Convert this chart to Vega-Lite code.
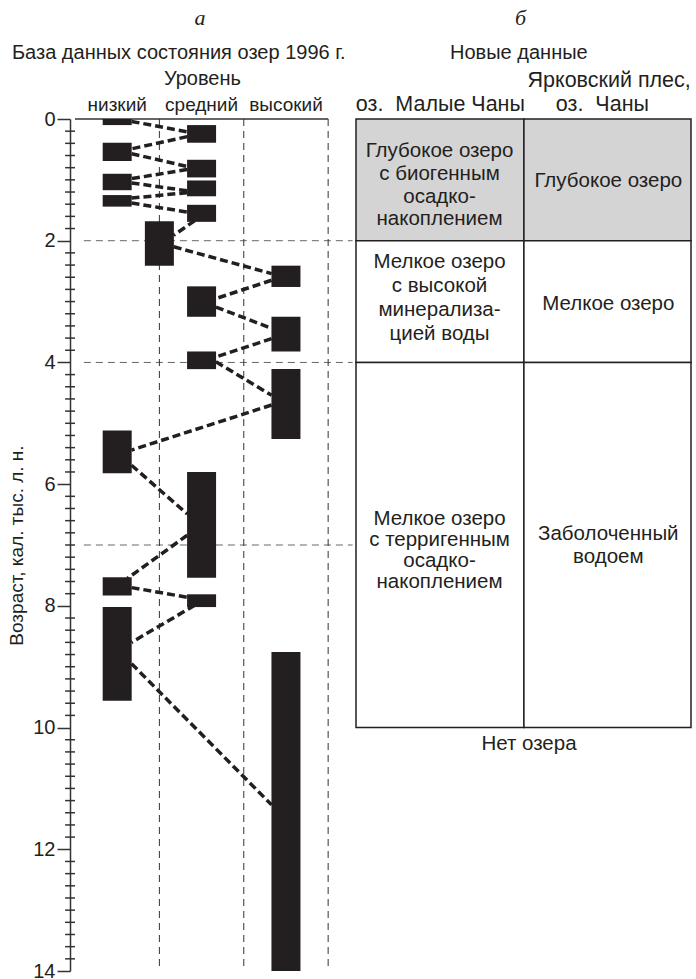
{
  "$schema": "https://vega.github.io/schema/vega-lite/v6.json",
  "autosize": "none",
  "width": 626,
  "height": 852,
  "padding": {"left": 70, "top": 119, "right": 0, "bottom": 8},
  "background": "white",
  "config": {
    "view": {"stroke": null},
    "text": {"font": "Liberation Sans", "color": "#231f20"}
  },
  "datasets": {
    "bars": [
      {"lvl": 0.5, "from": 0, "to": 0.1},
      {"lvl": 1.5, "from": 0.1, "to": 0.39},
      {"lvl": 0.5, "from": 0.39, "to": 0.69},
      {"lvl": 1.5, "from": 0.67, "to": 0.96},
      {"lvl": 0.5, "from": 0.9, "to": 1.17},
      {"lvl": 1.5, "from": 1.01, "to": 1.27},
      {"lvl": 0.5, "from": 1.25, "to": 1.44},
      {"lvl": 1.5, "from": 1.41, "to": 1.69},
      {"lvl": 1.0, "from": 1.68, "to": 2.41},
      {"lvl": 2.5, "from": 2.41, "to": 2.76},
      {"lvl": 1.5, "from": 2.75, "to": 3.25},
      {"lvl": 2.5, "from": 3.25, "to": 3.82},
      {"lvl": 1.5, "from": 3.82, "to": 4.11},
      {"lvl": 2.5, "from": 4.11, "to": 5.26},
      {"lvl": 0.5, "from": 5.12, "to": 5.82},
      {"lvl": 1.5, "from": 5.8, "to": 7.54},
      {"lvl": 0.5, "from": 7.53, "to": 7.83},
      {"lvl": 1.5, "from": 7.81, "to": 8.02},
      {"lvl": 0.5, "from": 8.02, "to": 9.56},
      {"lvl": 2.5, "from": 8.76, "to": 14.0}
    ],
    "links": [
      {"xa": 0.67, "ya": 0.04, "xb": 1.33, "yb": 0.21},
      {"xa": 1.33, "ya": 0.29, "xb": 0.67, "yb": 0.49},
      {"xa": 0.67, "ya": 0.57, "xb": 1.33, "yb": 0.78},
      {"xa": 1.33, "ya": 0.83, "xb": 0.67, "yb": 0.98},
      {"xa": 0.67, "ya": 1.05, "xb": 1.33, "yb": 1.18},
      {"xa": 1.33, "ya": 1.21, "xb": 0.67, "yb": 1.30},
      {"xa": 0.67, "ya": 1.38, "xb": 1.33, "yb": 1.53},
      {"xa": 1.42, "ya": 1.67, "xb": 1.17, "yb": 1.91},
      {"xa": 1.17, "ya": 2.10, "xb": 2.33, "yb": 2.54},
      {"xa": 2.33, "ya": 2.65, "xb": 1.67, "yb": 2.95},
      {"xa": 1.67, "ya": 3.09, "xb": 2.33, "yb": 3.44},
      {"xa": 2.33, "ya": 3.61, "xb": 1.67, "yb": 3.91},
      {"xa": 1.67, "ya": 3.99, "xb": 2.33, "yb": 4.54},
      {"xa": 2.33, "ya": 4.70, "xb": 0.67, "yb": 5.44},
      {"xa": 0.67, "ya": 5.69, "xb": 1.33, "yb": 6.49},
      {"xa": 1.33, "ya": 6.84, "xb": 0.62, "yb": 7.55},
      {"xa": 0.67, "ya": 7.70, "xb": 1.42, "yb": 7.88},
      {"xa": 1.42, "ya": 7.99, "xb": 0.67, "yb": 8.60},
      {"xa": 0.67, "ya": 8.95, "xb": 2.33, "yb": 11.27}
    ],
    "cells": [
      {"kind": "deep", "xa": 3.33, "xb": 5.32, "ya": 0, "yb": 2},
      {"kind": "deep", "xa": 5.32, "xb": 7.3, "ya": 0, "yb": 2},
      {"kind": "shallow", "xa": 3.33, "xb": 5.32, "ya": 2, "yb": 4},
      {"kind": "shallow", "xa": 5.32, "xb": 7.3, "ya": 2, "yb": 4},
      {"kind": "shallow", "xa": 3.33, "xb": 5.32, "ya": 4, "yb": 10},
      {"kind": "shallow", "xa": 5.32, "xb": 7.3, "ya": 4, "yb": 10}
    ],
    "cellText": [
      {"t": "Глубокое озеро", "x": 4.32, "y": 0.534},
      {"t": "с биогенным", "x": 4.32, "y": 0.907},
      {"t": "осадко-", "x": 4.32, "y": 1.278},
      {"t": "накоплением", "x": 4.32, "y": 1.651},
      {"t": "Глубокое озеро", "x": 6.32, "y": 1.011},
      {"t": "Мелкое озеро", "x": 4.32, "y": 2.35},
      {"t": "с высокой", "x": 4.32, "y": 2.744},
      {"t": "минерализа-", "x": 4.32, "y": 3.139},
      {"t": "цией воды", "x": 4.32, "y": 3.533},
      {"t": "Мелкое озеро", "x": 6.32, "y": 3.04},
      {"t": "Мелкое озеро", "x": 4.32, "y": 6.572},
      {"t": "с терригенным", "x": 4.32, "y": 6.917},
      {"t": "осадко-", "x": 4.32, "y": 7.262},
      {"t": "накоплением", "x": 4.32, "y": 7.607},
      {"t": "Заболоченный", "x": 6.32, "y": 6.819},
      {"t": "водоем", "x": 6.32, "y": 7.205},
      {"t": "Нет озера", "x": 5.38, "y": 10.27}
    ],
    "headersA": [
      {"t": "База данных состояния озер 1996 г.", "x": 1.23, "y": -1.092},
      {"t": "Новые данные", "x": 5.26, "y": -1.092},
      {"t": "Уровень", "x": 1.51, "y": -0.665}
    ],
    "headersB": [
      {"t": "низкий", "x": 0.5, "y": -0.23},
      {"t": "средний", "x": 1.5, "y": -0.23},
      {"t": "высокий", "x": 2.5, "y": -0.23}
    ],
    "headersC": [
      {"t": "Ярковский плес,", "x": 6.33, "y": -0.624},
      {"t": "оз.\u00a0 Малые Чаны", "x": 4.33, "y": -0.23},
      {"t": "оз.\u00a0 Чаны", "x": 6.25, "y": -0.23}
    ],
    "letters": [
      {"t": "а", "x": 1.48, "y": -1.66},
      {"t": "б", "x": 5.28, "y": -1.66}
    ],
    "minorTicks": [
      {"v": 0.2}, {"v": 0.4}, {"v": 0.6}, {"v": 0.8}, {"v": 1.0}, {"v": 1.2}, {"v": 1.4}, {"v": 1.6}, {"v": 1.8},
      {"v": 2.2}, {"v": 2.4}, {"v": 2.6}, {"v": 2.8}, {"v": 3.0}, {"v": 3.2}, {"v": 3.4}, {"v": 3.6}, {"v": 3.8},
      {"v": 4.2}, {"v": 4.4}, {"v": 4.6}, {"v": 4.8}, {"v": 5.0}, {"v": 5.2}, {"v": 5.4}, {"v": 5.6}, {"v": 5.8},
      {"v": 6.2}, {"v": 6.4}, {"v": 6.6}, {"v": 6.8}, {"v": 7.0}, {"v": 7.2}, {"v": 7.4}, {"v": 7.6}, {"v": 7.8},
      {"v": 8.2}, {"v": 8.4}, {"v": 8.6}, {"v": 8.8}, {"v": 9.0}, {"v": 9.2}, {"v": 9.4}, {"v": 9.6}, {"v": 9.8},
      {"v": 10.2}, {"v": 10.4}, {"v": 10.6}, {"v": 10.8}, {"v": 11.0}, {"v": 11.2}, {"v": 11.4}, {"v": 11.6}, {"v": 11.8},
      {"v": 12.2}, {"v": 12.4}, {"v": 12.6}, {"v": 12.8}, {"v": 13.0}, {"v": 13.2}, {"v": 13.4}, {"v": 13.6}, {"v": 13.8}
    ],
    "hgrid": [{"age": 2}, {"age": 4}, {"age": 7}],
    "vgrid": [{"lv": 1}, {"lv": 2}, {"lv": 3}]
  },
  "layer": [
    {
      "data": {"name": "cells"},
      "mark": {"type": "rect", "stroke": "#231f20", "strokeWidth": 1.5},
      "encoding": {
        "x": {"field": "xa", "type": "quantitative", "scale": {"domain": [0, 7.3], "nice": false, "zero": false}, "axis": null},
        "x2": {"field": "xb"},
        "y": {
          "field": "ya", "type": "quantitative",
          "scale": {"domain": [0, 14], "reverse": true, "nice": false, "zero": false},
          "axis": {
            "title": "Возраст, кал. тыс. л. н.",
            "values": [0, 2, 4, 6, 8, 10, 12, 14],
            "format": "d",
            "grid": false,
            "titleFont": "Liberation Sans",
            "titleFontSize": 19,
            "titleFontWeight": "normal",
            "titleColor": "#231f20",
            "titleBaseline": "alphabetic",
            "titleAngle": -90,
            "titleX": -48,
            "titleY": 426,
            "labelFont": "Liberation Sans",
            "labelFontSize": 20,
            "labelColor": "#231f20",
            "labelPadding": 2,
            "labelFlush": false,
            "labelOverlap": false,
            "tickSize": 13,
            "tickColor": "#333333",
            "tickWidth": 1.5,
            "domainColor": "#333333",
            "domainWidth": 1.5
          }
        },
        "y2": {"field": "yb"},
        "fill": {"field": "kind", "type": "nominal", "scale": {"domain": ["deep", "shallow"], "range": ["#d4d4d4", "#ffffff"]}, "legend": null}
      }
    },
    {
      "data": {"name": "hgrid"},
      "mark": {"type": "rule", "stroke": "#666666", "strokeWidth": 1, "strokeDash": [7, 5]},
      "encoding": {
        "x": {"datum": 0.105, "type": "quantitative", "axis": null},
        "x2": {"datum": 3.29},
        "y": {"field": "age", "type": "quantitative"}
      }
    },
    {
      "data": {"name": "vgrid"},
      "mark": {"type": "rule", "stroke": "#333333", "strokeWidth": 1, "strokeDash": [7, 5]},
      "encoding": {
        "x": {"field": "lv", "type": "quantitative", "axis": null},
        "y": {"datum": 0, "type": "quantitative"},
        "y2": {"datum": 14}
      }
    },
    {
      "data": {"values": [{"a": 0}]},
      "mark": {"type": "rule", "stroke": "#333333", "strokeWidth": 1.5},
      "encoding": {
        "x": {"datum": 0, "type": "quantitative", "axis": null},
        "x2": {"datum": 3},
        "y": {"datum": 0, "type": "quantitative"}
      }
    },
    {
      "data": {"name": "minorTicks"},
      "mark": {"type": "rule", "stroke": "#333333", "strokeWidth": 1.5},
      "encoding": {
        "x": {"datum": -0.117, "type": "quantitative", "axis": null},
        "x2": {"datum": 0},
        "y": {"field": "v", "type": "quantitative"}
      }
    },
    {
      "data": {"name": "bars"},
      "mark": {"type": "bar", "size": 29, "color": "#231f20"},
      "encoding": {
        "x": {"field": "lvl", "type": "quantitative", "axis": null},
        "y": {"field": "from", "type": "quantitative"},
        "y2": {"field": "to"}
      }
    },
    {
      "data": {"name": "links"},
      "mark": {"type": "rule", "stroke": "#231f20", "strokeWidth": 3.5, "strokeDash": [8, 4]},
      "encoding": {
        "x": {"field": "xa", "type": "quantitative", "axis": null},
        "x2": {"field": "xb"},
        "y": {"field": "ya", "type": "quantitative"},
        "y2": {"field": "yb"}
      }
    },
    {
      "data": {"name": "cellText"},
      "mark": {"type": "text", "fontSize": 20.5, "align": "center", "baseline": "middle"},
      "encoding": {
        "x": {"field": "x", "type": "quantitative", "axis": null},
        "y": {"field": "y", "type": "quantitative"},
        "text": {"field": "t"}
      }
    },
    {
      "data": {"name": "headersA"},
      "mark": {"type": "text", "fontSize": 20, "align": "center", "baseline": "middle"},
      "encoding": {
        "x": {"field": "x", "type": "quantitative", "axis": null},
        "y": {"field": "y", "type": "quantitative"},
        "text": {"field": "t"}
      }
    },
    {
      "data": {"name": "headersB"},
      "mark": {"type": "text", "fontSize": 19, "align": "center", "baseline": "middle"},
      "encoding": {
        "x": {"field": "x", "type": "quantitative", "axis": null},
        "y": {"field": "y", "type": "quantitative"},
        "text": {"field": "t"}
      }
    },
    {
      "data": {"name": "headersC"},
      "mark": {"type": "text", "fontSize": 21.5, "align": "center", "baseline": "middle"},
      "encoding": {
        "x": {"field": "x", "type": "quantitative", "axis": null},
        "y": {"field": "y", "type": "quantitative"},
        "text": {"field": "t"}
      }
    },
    {
      "data": {"name": "letters"},
      "mark": {"type": "text", "font": "Liberation Serif", "fontStyle": "italic", "fontSize": 22, "align": "center", "baseline": "middle"},
      "encoding": {
        "x": {"field": "x", "type": "quantitative", "axis": null},
        "y": {"field": "y", "type": "quantitative"},
        "text": {"field": "t"}
      }
    }
  ]
}
